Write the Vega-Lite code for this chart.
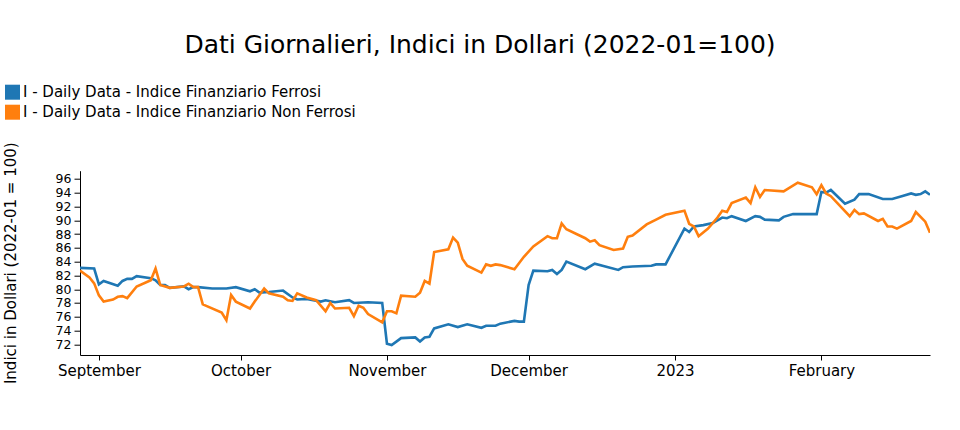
{
  "$schema": "https://vega.github.io/schema/vega-lite/v6.json",
  "width": 850,
  "height": 184.3,
  "autosize": "none",
  "padding": {"left": 80, "top": 170.7, "right": 30, "bottom": 75},
  "background": "white",
  "config": {
    "view": {"stroke": null},
    "font": "DejaVu Sans",
    "axis": {"labelFont": "DejaVu Sans", "titleFont": "DejaVu Sans", "labelColor": "black", "titleColor": "black", "domainColor": "black", "tickColor": "black", "grid": false},
    "legend": {"labelFont": "DejaVu Sans"}
  },
  "title": {
    "text": "Dati Giornalieri, Indici in Dollari (2022-01=100)",
    "font": "DejaVu Sans",
    "fontSize": 25,
    "fontWeight": "normal",
    "color": "black",
    "anchor": "middle",
    "frame": "group",
    "dx": -25,
    "offset": 27
  },
  "data": {
    "values": [
      {"date": "2022-08-28", "series": "Ferrosi", "value": 83.1},
      {"date": "2022-08-31", "series": "Ferrosi", "value": 83.0},
      {"date": "2022-09-01", "series": "Ferrosi", "value": 80.7},
      {"date": "2022-09-02", "series": "Ferrosi", "value": 81.2},
      {"date": "2022-09-05", "series": "Ferrosi", "value": 80.5},
      {"date": "2022-09-06", "series": "Ferrosi", "value": 81.2},
      {"date": "2022-09-07", "series": "Ferrosi", "value": 81.5},
      {"date": "2022-09-08", "series": "Ferrosi", "value": 81.5},
      {"date": "2022-09-09", "series": "Ferrosi", "value": 81.9},
      {"date": "2022-09-12", "series": "Ferrosi", "value": 81.6},
      {"date": "2022-09-13", "series": "Ferrosi", "value": 81.3},
      {"date": "2022-09-14", "series": "Ferrosi", "value": 80.6},
      {"date": "2022-09-15", "series": "Ferrosi", "value": 80.6},
      {"date": "2022-09-16", "series": "Ferrosi", "value": 80.2},
      {"date": "2022-09-19", "series": "Ferrosi", "value": 80.4},
      {"date": "2022-09-20", "series": "Ferrosi", "value": 80.0},
      {"date": "2022-09-21", "series": "Ferrosi", "value": 80.3},
      {"date": "2022-09-22", "series": "Ferrosi", "value": 80.3},
      {"date": "2022-09-25", "series": "Ferrosi", "value": 80.1},
      {"date": "2022-09-28", "series": "Ferrosi", "value": 80.1},
      {"date": "2022-09-30", "series": "Ferrosi", "value": 80.3},
      {"date": "2022-10-03", "series": "Ferrosi", "value": 79.7},
      {"date": "2022-10-04", "series": "Ferrosi", "value": 80.0},
      {"date": "2022-10-05", "series": "Ferrosi", "value": 79.5},
      {"date": "2022-10-07", "series": "Ferrosi", "value": 79.6},
      {"date": "2022-10-10", "series": "Ferrosi", "value": 79.8},
      {"date": "2022-10-12", "series": "Ferrosi", "value": 78.8},
      {"date": "2022-10-13", "series": "Ferrosi", "value": 78.5},
      {"date": "2022-10-15", "series": "Ferrosi", "value": 78.6},
      {"date": "2022-10-18", "series": "Ferrosi", "value": 78.2},
      {"date": "2022-10-19", "series": "Ferrosi", "value": 78.4},
      {"date": "2022-10-21", "series": "Ferrosi", "value": 78.1},
      {"date": "2022-10-24", "series": "Ferrosi", "value": 78.4},
      {"date": "2022-10-25", "series": "Ferrosi", "value": 78.0},
      {"date": "2022-10-28", "series": "Ferrosi", "value": 78.1},
      {"date": "2022-10-31", "series": "Ferrosi", "value": 78.0},
      {"date": "2022-11-01", "series": "Ferrosi", "value": 72.1},
      {"date": "2022-11-02", "series": "Ferrosi", "value": 71.9},
      {"date": "2022-11-04", "series": "Ferrosi", "value": 72.9},
      {"date": "2022-11-07", "series": "Ferrosi", "value": 73.0},
      {"date": "2022-11-08", "series": "Ferrosi", "value": 72.4},
      {"date": "2022-11-09", "series": "Ferrosi", "value": 73.0},
      {"date": "2022-11-10", "series": "Ferrosi", "value": 73.1},
      {"date": "2022-11-11", "series": "Ferrosi", "value": 74.3},
      {"date": "2022-11-14", "series": "Ferrosi", "value": 74.9},
      {"date": "2022-11-16", "series": "Ferrosi", "value": 74.5},
      {"date": "2022-11-18", "series": "Ferrosi", "value": 74.9},
      {"date": "2022-11-21", "series": "Ferrosi", "value": 74.4},
      {"date": "2022-11-22", "series": "Ferrosi", "value": 74.7},
      {"date": "2022-11-24", "series": "Ferrosi", "value": 74.7},
      {"date": "2022-11-25", "series": "Ferrosi", "value": 75.0},
      {"date": "2022-11-28", "series": "Ferrosi", "value": 75.4},
      {"date": "2022-11-29", "series": "Ferrosi", "value": 75.3},
      {"date": "2022-11-30", "series": "Ferrosi", "value": 75.3},
      {"date": "2022-12-01", "series": "Ferrosi", "value": 80.6},
      {"date": "2022-12-02", "series": "Ferrosi", "value": 82.7},
      {"date": "2022-12-05", "series": "Ferrosi", "value": 82.6},
      {"date": "2022-12-06", "series": "Ferrosi", "value": 82.8},
      {"date": "2022-12-07", "series": "Ferrosi", "value": 82.2},
      {"date": "2022-12-08", "series": "Ferrosi", "value": 82.8},
      {"date": "2022-12-09", "series": "Ferrosi", "value": 84.0},
      {"date": "2022-12-13", "series": "Ferrosi", "value": 82.9},
      {"date": "2022-12-15", "series": "Ferrosi", "value": 83.7},
      {"date": "2022-12-20", "series": "Ferrosi", "value": 82.8},
      {"date": "2022-12-21", "series": "Ferrosi", "value": 83.2},
      {"date": "2022-12-23", "series": "Ferrosi", "value": 83.3},
      {"date": "2022-12-27", "series": "Ferrosi", "value": 83.4},
      {"date": "2022-12-28", "series": "Ferrosi", "value": 83.6},
      {"date": "2022-12-30", "series": "Ferrosi", "value": 83.6},
      {"date": "2023-01-03", "series": "Ferrosi", "value": 88.8},
      {"date": "2023-01-04", "series": "Ferrosi", "value": 88.3},
      {"date": "2023-01-05", "series": "Ferrosi", "value": 89.1},
      {"date": "2023-01-07", "series": "Ferrosi", "value": 89.3},
      {"date": "2023-01-09", "series": "Ferrosi", "value": 89.6},
      {"date": "2023-01-11", "series": "Ferrosi", "value": 90.4},
      {"date": "2023-01-12", "series": "Ferrosi", "value": 90.3},
      {"date": "2023-01-13", "series": "Ferrosi", "value": 90.6},
      {"date": "2023-01-16", "series": "Ferrosi", "value": 89.9},
      {"date": "2023-01-18", "series": "Ferrosi", "value": 90.6},
      {"date": "2023-01-19", "series": "Ferrosi", "value": 90.5},
      {"date": "2023-01-20", "series": "Ferrosi", "value": 90.1},
      {"date": "2023-01-23", "series": "Ferrosi", "value": 90.0},
      {"date": "2023-01-24", "series": "Ferrosi", "value": 90.5},
      {"date": "2023-01-26", "series": "Ferrosi", "value": 90.9},
      {"date": "2023-01-29", "series": "Ferrosi", "value": 90.9},
      {"date": "2023-01-31", "series": "Ferrosi", "value": 90.9},
      {"date": "2023-02-01", "series": "Ferrosi", "value": 94.1},
      {"date": "2023-02-02", "series": "Ferrosi", "value": 94.0},
      {"date": "2023-02-03", "series": "Ferrosi", "value": 94.4},
      {"date": "2023-02-06", "series": "Ferrosi", "value": 92.4},
      {"date": "2023-02-08", "series": "Ferrosi", "value": 93.0},
      {"date": "2023-02-09", "series": "Ferrosi", "value": 93.8},
      {"date": "2023-02-11", "series": "Ferrosi", "value": 93.8},
      {"date": "2023-02-14", "series": "Ferrosi", "value": 93.1},
      {"date": "2023-02-16", "series": "Ferrosi", "value": 93.1},
      {"date": "2023-02-18", "series": "Ferrosi", "value": 93.5},
      {"date": "2023-02-20", "series": "Ferrosi", "value": 93.9},
      {"date": "2023-02-21", "series": "Ferrosi", "value": 93.7},
      {"date": "2023-02-22", "series": "Ferrosi", "value": 93.8},
      {"date": "2023-02-23", "series": "Ferrosi", "value": 94.2},
      {"date": "2023-02-24", "series": "Ferrosi", "value": 93.7},
      {"date": "2022-08-28", "series": "Non Ferrosi", "value": 82.7},
      {"date": "2022-08-30", "series": "Non Ferrosi", "value": 81.7},
      {"date": "2022-08-31", "series": "Non Ferrosi", "value": 80.85},
      {"date": "2022-09-01", "series": "Non Ferrosi", "value": 79.1},
      {"date": "2022-09-02", "series": "Non Ferrosi", "value": 78.2},
      {"date": "2022-09-04", "series": "Non Ferrosi", "value": 78.5},
      {"date": "2022-09-05", "series": "Non Ferrosi", "value": 78.9},
      {"date": "2022-09-06", "series": "Non Ferrosi", "value": 79.0},
      {"date": "2022-09-07", "series": "Non Ferrosi", "value": 78.7},
      {"date": "2022-09-09", "series": "Non Ferrosi", "value": 80.4},
      {"date": "2022-09-12", "series": "Non Ferrosi", "value": 81.3},
      {"date": "2022-09-13", "series": "Non Ferrosi", "value": 83.0},
      {"date": "2022-09-14", "series": "Non Ferrosi", "value": 80.6},
      {"date": "2022-09-16", "series": "Non Ferrosi", "value": 80.2},
      {"date": "2022-09-19", "series": "Non Ferrosi", "value": 80.4},
      {"date": "2022-09-20", "series": "Non Ferrosi", "value": 80.8},
      {"date": "2022-09-21", "series": "Non Ferrosi", "value": 80.3},
      {"date": "2022-09-22", "series": "Non Ferrosi", "value": 80.3},
      {"date": "2022-09-23", "series": "Non Ferrosi", "value": 77.8},
      {"date": "2022-09-27", "series": "Non Ferrosi", "value": 76.6},
      {"date": "2022-09-28", "series": "Non Ferrosi", "value": 75.5},
      {"date": "2022-09-29", "series": "Non Ferrosi", "value": 79.15},
      {"date": "2022-09-30", "series": "Non Ferrosi", "value": 78.2},
      {"date": "2022-10-03", "series": "Non Ferrosi", "value": 77.2},
      {"date": "2022-10-04", "series": "Non Ferrosi", "value": 78.2},
      {"date": "2022-10-06", "series": "Non Ferrosi", "value": 80.1},
      {"date": "2022-10-07", "series": "Non Ferrosi", "value": 79.4},
      {"date": "2022-10-10", "series": "Non Ferrosi", "value": 78.9},
      {"date": "2022-10-11", "series": "Non Ferrosi", "value": 78.4},
      {"date": "2022-10-12", "series": "Non Ferrosi", "value": 78.3},
      {"date": "2022-10-13", "series": "Non Ferrosi", "value": 79.4},
      {"date": "2022-10-15", "series": "Non Ferrosi", "value": 78.8},
      {"date": "2022-10-17", "series": "Non Ferrosi", "value": 78.4},
      {"date": "2022-10-19", "series": "Non Ferrosi", "value": 76.8},
      {"date": "2022-10-20", "series": "Non Ferrosi", "value": 78.0},
      {"date": "2022-10-21", "series": "Non Ferrosi", "value": 77.2},
      {"date": "2022-10-24", "series": "Non Ferrosi", "value": 77.3},
      {"date": "2022-10-25", "series": "Non Ferrosi", "value": 76.1},
      {"date": "2022-10-26", "series": "Non Ferrosi", "value": 77.6},
      {"date": "2022-10-27", "series": "Non Ferrosi", "value": 77.3},
      {"date": "2022-10-28", "series": "Non Ferrosi", "value": 76.4},
      {"date": "2022-10-31", "series": "Non Ferrosi", "value": 75.2},
      {"date": "2022-11-01", "series": "Non Ferrosi", "value": 76.8},
      {"date": "2022-11-02", "series": "Non Ferrosi", "value": 76.8},
      {"date": "2022-11-03", "series": "Non Ferrosi", "value": 76.5},
      {"date": "2022-11-04", "series": "Non Ferrosi", "value": 79.05},
      {"date": "2022-11-07", "series": "Non Ferrosi", "value": 78.9},
      {"date": "2022-11-08", "series": "Non Ferrosi", "value": 79.5},
      {"date": "2022-11-09", "series": "Non Ferrosi", "value": 81.2},
      {"date": "2022-11-10", "series": "Non Ferrosi", "value": 80.8},
      {"date": "2022-11-11", "series": "Non Ferrosi", "value": 85.4},
      {"date": "2022-11-14", "series": "Non Ferrosi", "value": 85.8},
      {"date": "2022-11-15", "series": "Non Ferrosi", "value": 87.5},
      {"date": "2022-11-16", "series": "Non Ferrosi", "value": 86.75},
      {"date": "2022-11-17", "series": "Non Ferrosi", "value": 84.4},
      {"date": "2022-11-18", "series": "Non Ferrosi", "value": 83.4},
      {"date": "2022-11-21", "series": "Non Ferrosi", "value": 82.4},
      {"date": "2022-11-22", "series": "Non Ferrosi", "value": 83.6},
      {"date": "2022-11-23", "series": "Non Ferrosi", "value": 83.4},
      {"date": "2022-11-24", "series": "Non Ferrosi", "value": 83.6},
      {"date": "2022-11-25", "series": "Non Ferrosi", "value": 83.5},
      {"date": "2022-11-28", "series": "Non Ferrosi", "value": 82.9},
      {"date": "2022-11-30", "series": "Non Ferrosi", "value": 84.7},
      {"date": "2022-12-02", "series": "Non Ferrosi", "value": 86.2},
      {"date": "2022-12-05", "series": "Non Ferrosi", "value": 87.7},
      {"date": "2022-12-06", "series": "Non Ferrosi", "value": 87.4},
      {"date": "2022-12-07", "series": "Non Ferrosi", "value": 87.4},
      {"date": "2022-12-08", "series": "Non Ferrosi", "value": 89.55},
      {"date": "2022-12-09", "series": "Non Ferrosi", "value": 88.7},
      {"date": "2022-12-13", "series": "Non Ferrosi", "value": 87.4},
      {"date": "2022-12-14", "series": "Non Ferrosi", "value": 86.9},
      {"date": "2022-12-15", "series": "Non Ferrosi", "value": 87.1},
      {"date": "2022-12-16", "series": "Non Ferrosi", "value": 86.4},
      {"date": "2022-12-19", "series": "Non Ferrosi", "value": 85.7},
      {"date": "2022-12-21", "series": "Non Ferrosi", "value": 85.9},
      {"date": "2022-12-22", "series": "Non Ferrosi", "value": 87.6},
      {"date": "2022-12-23", "series": "Non Ferrosi", "value": 87.8},
      {"date": "2022-12-26", "series": "Non Ferrosi", "value": 89.4},
      {"date": "2022-12-28", "series": "Non Ferrosi", "value": 90.1},
      {"date": "2022-12-30", "series": "Non Ferrosi", "value": 90.8},
      {"date": "2023-01-03", "series": "Non Ferrosi", "value": 91.4},
      {"date": "2023-01-04", "series": "Non Ferrosi", "value": 89.5},
      {"date": "2023-01-05", "series": "Non Ferrosi", "value": 89.1},
      {"date": "2023-01-06", "series": "Non Ferrosi", "value": 87.7},
      {"date": "2023-01-08", "series": "Non Ferrosi", "value": 88.8},
      {"date": "2023-01-10", "series": "Non Ferrosi", "value": 90.4},
      {"date": "2023-01-11", "series": "Non Ferrosi", "value": 91.4},
      {"date": "2023-01-12", "series": "Non Ferrosi", "value": 91.2},
      {"date": "2023-01-13", "series": "Non Ferrosi", "value": 92.5},
      {"date": "2023-01-16", "series": "Non Ferrosi", "value": 93.3},
      {"date": "2023-01-17", "series": "Non Ferrosi", "value": 92.5},
      {"date": "2023-01-18", "series": "Non Ferrosi", "value": 94.8},
      {"date": "2023-01-19", "series": "Non Ferrosi", "value": 93.4},
      {"date": "2023-01-20", "series": "Non Ferrosi", "value": 94.4},
      {"date": "2023-01-24", "series": "Non Ferrosi", "value": 94.2},
      {"date": "2023-01-27", "series": "Non Ferrosi", "value": 95.45},
      {"date": "2023-01-30", "series": "Non Ferrosi", "value": 94.8},
      {"date": "2023-01-31", "series": "Non Ferrosi", "value": 93.8},
      {"date": "2023-02-01", "series": "Non Ferrosi", "value": 95.1},
      {"date": "2023-02-02", "series": "Non Ferrosi", "value": 93.9},
      {"date": "2023-02-03", "series": "Non Ferrosi", "value": 93.5},
      {"date": "2023-02-07", "series": "Non Ferrosi", "value": 90.6},
      {"date": "2023-02-08", "series": "Non Ferrosi", "value": 91.5},
      {"date": "2023-02-09", "series": "Non Ferrosi", "value": 90.9},
      {"date": "2023-02-10", "series": "Non Ferrosi", "value": 91.0},
      {"date": "2023-02-13", "series": "Non Ferrosi", "value": 89.9},
      {"date": "2023-02-14", "series": "Non Ferrosi", "value": 90.2},
      {"date": "2023-02-15", "series": "Non Ferrosi", "value": 89.1},
      {"date": "2023-02-16", "series": "Non Ferrosi", "value": 89.1},
      {"date": "2023-02-17", "series": "Non Ferrosi", "value": 88.8},
      {"date": "2023-02-20", "series": "Non Ferrosi", "value": 89.9},
      {"date": "2023-02-21", "series": "Non Ferrosi", "value": 91.2},
      {"date": "2023-02-23", "series": "Non Ferrosi", "value": 89.8},
      {"date": "2023-02-24", "series": "Non Ferrosi", "value": 88.2}
    ]
  },
  "mark": {"type": "line", "strokeWidth": 2.6, "clip": true},
  "encoding": {
    "x": {
      "field": "date",
      "type": "temporal",
      "scale": {
        "type": "utc",
        "domain": [
          {"year": 2022, "month": 8, "date": 28, "utc": true},
          {"year": 2023, "month": 2, "date": 24, "utc": true}
        ]
      },
      "axis": {
        "title": null,
        "values": [
          {"year": 2022, "month": 9, "date": 1, "utc": true},
          {"year": 2022, "month": 10, "date": 1, "utc": true},
          {"year": 2022, "month": 11, "date": 1, "utc": true},
          {"year": 2022, "month": 12, "date": 1, "utc": true},
          {"year": 2023, "month": 1, "date": 1, "utc": true},
          {"year": 2023, "month": 2, "date": 1, "utc": true}
        ],
        "labelExpr": "utcFormat(datum.value, '%m') == '01' ? utcFormat(datum.value, '%Y') : utcFormat(datum.value, '%B')",
        "labelFontSize": 15,
        "tickSize": 5,
        "labelPadding": 3,
        "labelFlush": false,
        "labelOverlap": false
      }
    },
    "y": {
      "field": "value",
      "type": "quantitative",
      "scale": {"domain": [70.45, 97.2], "zero": false, "nice": false},
      "axis": {
        "title": "Indici in Dollari (2022-01 = 100)",
        "titleFontSize": 15,
        "titleFontWeight": "normal",
        "titleBaseline": "alphabetic",
        "titleX": -65,
        "titleY": 92,
        "titleAngle": -90,
        "titleAlign": "center",
        "values": [72, 74, 76, 78, 80, 82, 84, 86, 88, 90, 92, 94, 96],
        "labelFontSize": 12.5,
        "tickSize": 6,
        "labelPadding": 3,
        "labelOverlap": false,
        "labelFlush": false
      }
    },
    "color": {
      "field": "series",
      "type": "nominal",
      "scale": {"domain": ["Ferrosi", "Non Ferrosi"], "range": ["#1f77b4", "#ff7f0e"]},
      "legend": {
        "title": null,
        "orient": "none",
        "legendX": -75,
        "legendY": -86,
        "padding": 0,
        "symbolType": "square",
        "symbolSize": 225,
        "labelFontSize": 15,
        "labelColor": "black",
        "labelOffset": 3,
        "rowPadding": 4,
        "labelExpr": "'I - Daily Data - Indice Finanziario ' + datum.label",
        "labelLimit": 600,
        "encode": {
          "symbols": {
            "update": {
              "fill": {"scale": "color", "field": "value"},
              "strokeWidth": {"value": 0},
              "opacity": {"value": 1}
            }
          }
        }
      }
    }
  }
}
